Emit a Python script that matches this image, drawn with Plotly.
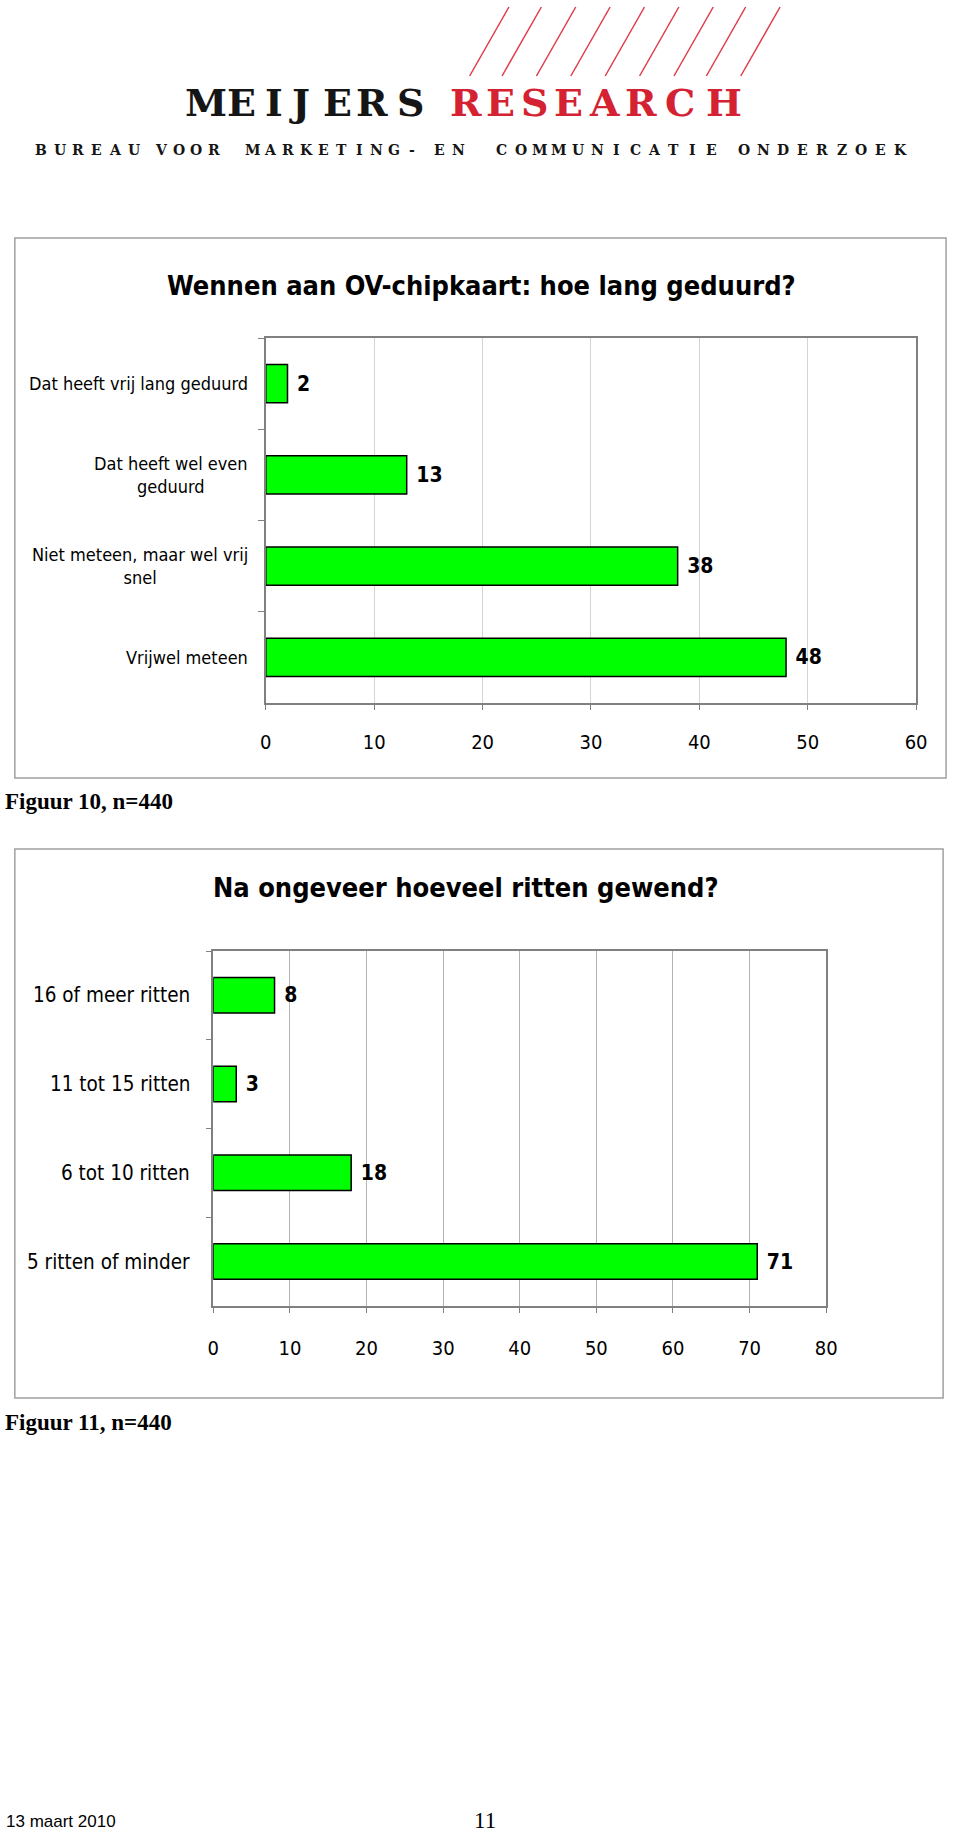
import plotly.graph_objects as go

W, H = 960, 1836

# ---- data ----
title1 = "Wennen aan OV-chipkaart: hoe lang geduurd?"
cats1 = ["Dat heeft vrij lang geduurd", "Dat heeft wel even<br>geduurd",
         "Niet meteen, maar wel vrij<br>snel", "Vrijwel meteen"]
vals1 = [2, 13, 38, 48]
ticks1 = [0, 10, 20, 30, 40, 50, 60]
caption1 = "Figuur 10, n=440"

title2 = "Na ongeveer hoeveel ritten gewend?"
cats2 = ["16 of meer ritten", "11 tot 15 ritten", "6 tot 10 ritten", "5 ritten of minder"]
vals2 = [8, 3, 18, 71]
ticks2 = [0, 10, 20, 30, 40, 50, 60, 70, 80]
caption2 = "Figuur 11, n=440"

footer_date = "13 maart 2010"
page_no = "11"

# ---- styling ----
NARROW = "Liberation Sans Narrow, Arial Narrow, DejaVu Sans Condensed, sans-serif"
SANS = "Liberation Sans, Arial, sans-serif"
SERIF = "Liberation Serif, Times New Roman, serif"
SLAB = "DejaVu Serif, serif"
GREEN = "#00ff00"
RED = "#d42233"
FRAME = "#808080"


def px(x):
    return x / W


def py(y):
    return 1 - y / H


fig = go.Figure()

fig.add_trace(go.Bar(
    x=vals1, y=cats1, orientation="h", xaxis="x", yaxis="y", width=0.42,
    marker=dict(color=GREEN, line=dict(color="black", width=1.5)),
    texttemplate=" %{x}", textposition="outside", cliponaxis=False,
    textfont=dict(family=NARROW, size=21, color="black", weight="bold"),
    hoverinfo="skip",
))
fig.add_trace(go.Bar(
    x=vals2, y=cats2, orientation="h", xaxis="x2", yaxis="y2", width=0.40,
    marker=dict(color=GREEN, line=dict(color="black", width=1.5)),
    texttemplate=" %{x}", textposition="outside", cliponaxis=False,
    textfont=dict(family=NARROW, size=21, color="black", weight="bold"),
    hoverinfo="skip",
))


def xaxis_style(dom, yname, ticks, grid, standoff):
    return dict(
        domain=dom, anchor=yname, range=[ticks[0], ticks[-1]], tickvals=ticks,
        showgrid=True, gridcolor=grid, gridwidth=1, zeroline=False,
        showline=True, linecolor=FRAME, linewidth=1.5, mirror=True,
        ticks="outside", ticklen=5, tickcolor=FRAME,
        tickfont=dict(family=NARROW, size=20, color="black"),
        ticklabelstandoff=standoff, fixedrange=True,
    )


def yaxis_style(dom, xname, cats):
    return dict(
        domain=dom, anchor=xname, type="category", categoryarray=cats,
        categoryorder="array", autorange="reversed",
        showticklabels=False, ticks="outside", tickson="boundaries",
        ticklen=6, tickcolor=FRAME, showgrid=False, zeroline=False,
        showline=True, linecolor=FRAME, linewidth=1.5, mirror=True,
        fixedrange=True,
    )


fig.update_layout(
    width=W, height=H, margin=dict(l=0, r=0, t=0, b=0),
    paper_bgcolor="white", plot_bgcolor="white", showlegend=False,
    xaxis=xaxis_style([px(264.5), px(926.5)], "y", ticks1, "#d4d4d4", 15),
    yaxis=yaxis_style([py(703), py(338)], "x", cats1),
    xaxis2=xaxis_style([px(211), px(835)], "y2", ticks2, "#b4b4b4", 18),
    yaxis2=yaxis_style([py(1306), py(951)], "x2", cats2),
)

ann = []
shapes = []

# chart frames
for x0, y0, x1, y1 in [(9, 238, 957, 778), (9, 849, 954, 1398)]:
    shapes.append(dict(type="rect", xref="paper", yref="paper",
                       x0=px(x0), x1=px(x1), y0=py(y1), y1=py(y0),
                       line=dict(color="#a0a0a0", width=1.5)))

# category labels (centered multi-line like the original)
for cats, yref, xr, size in [(cats1, "y", 248, 18), (cats2, "y2", 189, 20.5)]:
    for c in cats:
        ann.append(dict(text=c, xref="paper", yref=yref, x=px(xr), y=c,
                        xanchor="right", yanchor="middle", align="center",
                        showarrow=False,
                        font=dict(family=NARROW, size=size, color="black")))

# titles
for t, xc, yc in [(title1, 484, 285), (title2, 468, 887)]:
    ann.append(dict(text=t, xref="paper", yref="paper", x=px(xc), y=py(yc),
                    xanchor="center", yanchor="middle", showarrow=False,
                    font=dict(family=NARROW, size=27, color="black", weight="bold")))

# captions
for t, yc in [(caption1, 802), (caption2, 1422)]:
    ann.append(dict(text=t, xref="paper", yref="paper", x=0, y=py(yc),
                    xanchor="left", yanchor="middle", showarrow=False, xshift=-3,
                    font=dict(family=SERIF, size=23, color="black", weight="bold")))

# footer
ann.append(dict(text=footer_date, xref="paper", yref="paper", x=0, y=py(1821),
                xanchor="left", yanchor="middle", showarrow=False, xshift=-2,
                font=dict(family=SANS, size=17, color="black")))
ann.append(dict(text=page_no, xref="paper", yref="paper", x=px(488), y=py(1820),
                xanchor="center", yanchor="middle", showarrow=False,
                font=dict(family=SERIF, size=23, color="black")))

# ---- logo ----
line_bottoms = [472, 505, 540, 575, 610, 645, 680, 713, 748]
for xb in line_bottoms:
    shapes.append(dict(type="line", xref="paper", yref="paper",
                       x0=px(xb), y0=py(76), x1=px(xb + 40), y1=py(7),
                       line=dict(color="#e03a48", width=1.5)))

logo_text = "MEIJERSRESEARCH"
logo_x = [204, 240, 273, 299, 337, 373, 412, 468, 503, 538, 573, 609, 646, 686, 731]
for k, (ch, xc) in enumerate(zip(logo_text, logo_x)):
    ann.append(dict(text=ch, xref="paper", yref="paper", x=px(xc),
                    y=py(103), xanchor="center", yanchor="middle",
                    showarrow=False,
                    font=dict(family=SLAB, size=38, weight="bold",
                              color="#151515" if k < 7 else RED)))

sub_words = ["BUREAU", "VOOR", "MARKETING-", "EN", "COMMUNICATIE", "ONDERZOEK"]
sub_spans = [(29, 137), (152, 218), (245, 420), (435, 467), (498, 725), (745, 917)]
for word, (x0, x1) in zip(sub_words, sub_spans):
    n = len(word)
    gw = 13
    step = (x1 - x0 - gw) / (n - 1)
    for k, ch in enumerate(word):
        ann.append(dict(text=ch, xref="paper", yref="paper",
                        x=px(x0 + gw / 2 + k * step), y=py(150),
                        xanchor="center", yanchor="middle", showarrow=False,
                        font=dict(family=SLAB, size=14,
                                  weight="bold", color="#151515")))

fig.update_layout(annotations=ann, shapes=shapes)

fig.write_html("out.html", config={"displayModeBar": False},
               post_script="document.body.style.margin='0';")
